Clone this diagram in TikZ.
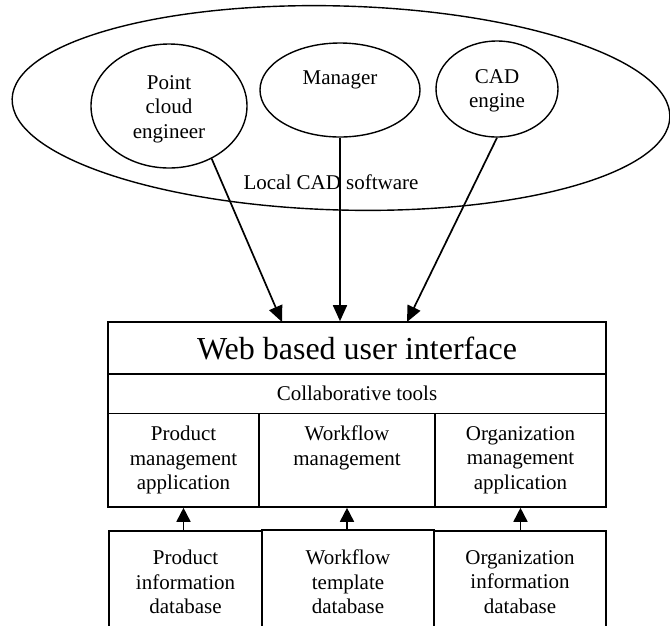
\documentclass[tikz,border=0pt]{standalone}
\usepackage{fontspec}
\setmainfont{Liberation Serif}
\usetikzlibrary{arrows.meta,shapes.geometric}
\begin{document}
\begin{tikzpicture}[x=1pt,y=-1pt,
  txt/.style={font=\fontsize{21}{24.5}\selectfont, align=center, inner sep=0pt},
  oval/.style={draw, ellipse, line width=1.4pt, inner sep=0pt, font=\fontsize{21}{24.5}\selectfont, align=center},
  box/.style={draw, rectangle, line width=1.6pt, inner sep=0pt, font=\fontsize{21}{24.5}\selectfont, align=center},
  arr/.style={line width=1.7pt, -{Triangle[length=16pt,width=14pt]}},
  uparr/.style={line width=1.7pt, -{Triangle[length=14pt,width=14pt]}}]
\clip (0,0) rectangle (670,625);
\fill[white] (0,0) rectangle (670,625);
% local CAD software
\node[oval, minimum width=658pt, minimum height=204pt, rotate=-1.6] (local) at (341,108) {};
\node[txt] (localtxt) at (331,182) {Local CAD software};
\node[oval, minimum width=156pt, minimum height=124pt] (pce) at (169,106) {};
\node[txt] (pcetxt) at (169,109) {Point\\cloud\\engineer};
\node[oval, minimum width=160pt, minimum height=94pt] (mgr) at (340,90) {};
\node[txt] (mgrtxt) at (340,80) {Manager};
\node[oval, minimum width=122pt, minimum height=96pt] (cad) at (497,89) {};
\node[txt] (cadtxt) at (497,91) {CAD\\engine};
% boxes
\node[box, minimum width=498pt, minimum height=52pt, font=\fontsize{32}{38}\selectfont] (web) at (357,348) {Web based user interface};
\node[box, minimum width=498pt, minimum height=39.5pt] (collab) at (357,393.75) {Collaborative tools};
\node[box, minimum width=151pt, minimum height=93.5pt] (pma) at (183.5,460.25) {Product\\management\\application};
\node[box, minimum width=176pt, minimum height=93.5pt] (wfm) at (347,460.25) {Workflow\\management\\\vphantom{application}};
\node[box, minimum width=171pt, minimum height=93.5pt] (oma) at (520.5,460.25) {Organization\\management\\application};
\node[box, minimum width=153pt, minimum height=102pt] (pid) at (185.5,582) {Product\\information\\database};
\node[box, minimum width=172pt, minimum height=104pt] (wtd) at (348,582) {Workflow\\template\\database};
\node[box, minimum width=172pt, minimum height=102pt] (oid) at (520,582) {Organization\\information\\database};
% arrows
\coordinate (t1) at (282,322);
\coordinate (t3) at (407,322);
\draw[arr] (pce.-51) -- (t1);
\draw[arr] (mgr.south) -- (mgr.south |- web.north);
\draw[arr] (cad.south) -- (t3);
\draw[uparr] (pid.north -| pma.south) -- (pma.south);
\draw[uparr] (wtd.north -| wfm.south) -- (wfm.south);
\draw[uparr] (oid.north -| oma.south) -- (oma.south);
\end{tikzpicture}
\end{document}
